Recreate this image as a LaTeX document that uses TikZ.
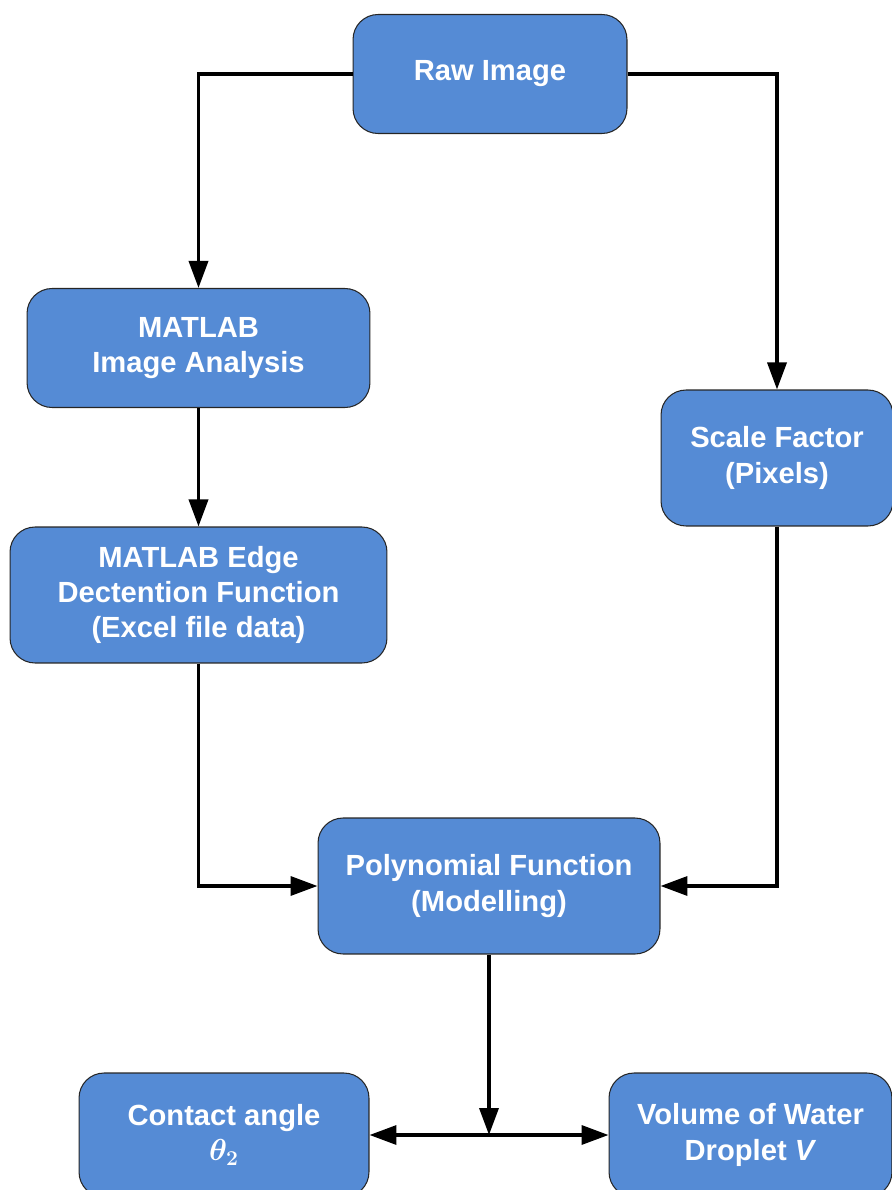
\documentclass[tikz,border=0pt]{standalone}
\usepackage{fontspec}
\setmainfont{Liberation Sans}
\usetikzlibrary{arrows.meta}
\definecolor{boxblue}{RGB}{85,139,213}
\begin{document}
\begin{tikzpicture}[x=0.02cm,y=-0.02cm,
  box/.style={draw=black!85, line width=0.6pt, fill=boxblue, rounded corners=0.5cm,
    text=white, font=\fontsize{16.6}{20}\selectfont\bfseries, align=center, inner sep=0pt},
  arr/.style={line width=2pt, -{Triangle[length=0.54cm,width=0.38cm]}}]
\useasboundingbox (0,0) rectangle (892,1190);
% boxes
\node[box, minimum width=5.48cm, minimum height=2.38cm] (raw) at (490,74) {Raw Image};
\node[box, minimum width=6.86cm, minimum height=2.38cm] (analysis) at (198.5,348) {MATLAB\\Image Analysis};
\node[box, minimum width=4.64cm, minimum height=2.72cm] (scale) at (777,458) {Scale Factor\\(Pixels)};
\node[box, minimum width=7.54cm, minimum height=2.72cm] (edge) at (198.5,595) {MATLAB Edge\\Dectention Function\\(Excel file data)};
\node[box, minimum width=6.84cm, minimum height=2.72cm] (poly) at (489,886) {Polynomial Function\\(Modelling)};
\node[box, minimum width=5.8cm, minimum height=2.48cm] (angle) at (224,1135) {Contact angle\\{\boldmath$\theta_2$}};
\node[box, minimum width=5.66cm, minimum height=2.48cm] (volume) at (750.5,1135) {Volume of Water\\Droplet \textit{V}};
\coordinate (split) at (poly.south |- angle.east);
% connectors
\draw[arr] (raw.west) -| (analysis.north);
\draw[arr] (raw.east) -| (scale.north);
\draw[arr] (analysis) -- (edge);
\draw[arr] (edge.south) |- (poly.west);
\draw[arr] (scale.south) |- (poly.east);
\draw[arr] (poly.south) -- (split);
\draw[arr] (split) -- (angle.east);
\draw[arr] (split) -- (volume.west);
\end{tikzpicture}
\end{document}
